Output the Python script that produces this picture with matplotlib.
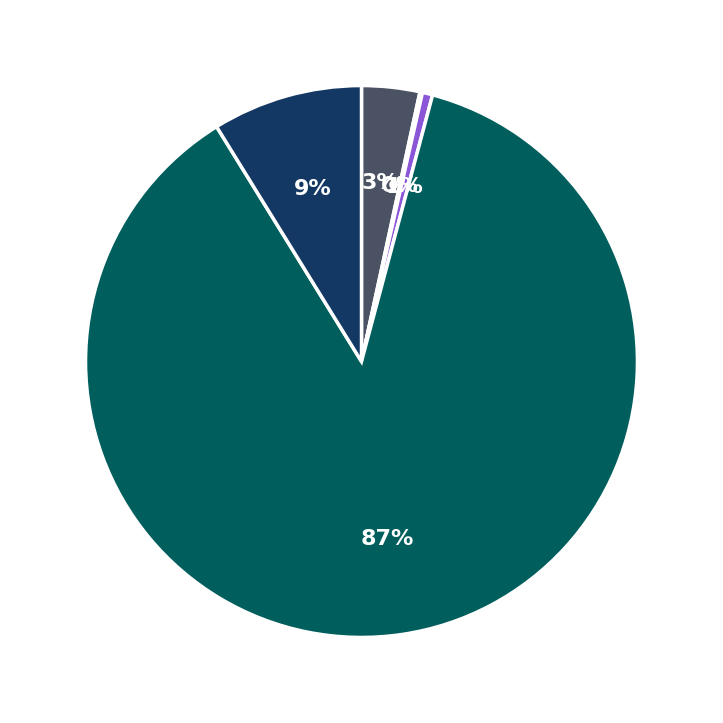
import matplotlib
matplotlib.use("Agg")
import matplotlib.pyplot as plt

# slices clockwise from 12 o'clock
labels = ["Grey", "Tiny", "Purple", "Teal", "Navy"]
shares = [3.4, 0.15, 0.6, 87.05, 8.8]
colors = ["#4a5263", "#6a7fb0", "#8a55d6", "#005e5c", "#143864"]


def main():
    fig, ax = plt.subplots(figsize=(7.23, 7.23), dpi=100)
    wedges, texts, autotexts = ax.pie(
        shares,
        colors=colors,
        startangle=90,
        counterclock=False,
        autopct="%.0f%%",
        pctdistance=0.65,
        radius=1.0,
        wedgeprops={"edgecolor": "white", "linewidth": 2.5},
        textprops={"color": "white", "fontsize": 16, "fontweight": "bold"},
    )
    ax.set_aspect("equal")
    ax.set_xlim(-1.31, 1.31)
    ax.set_ylim(-1.31, 1.31)
    ax.axis("off")
    fig.subplots_adjust(left=0, right=1, top=1, bottom=0)
    fig.savefig("out.png", dpi=100, facecolor="white")
    plt.close(fig)


if __name__ == "__main__":
    main()
